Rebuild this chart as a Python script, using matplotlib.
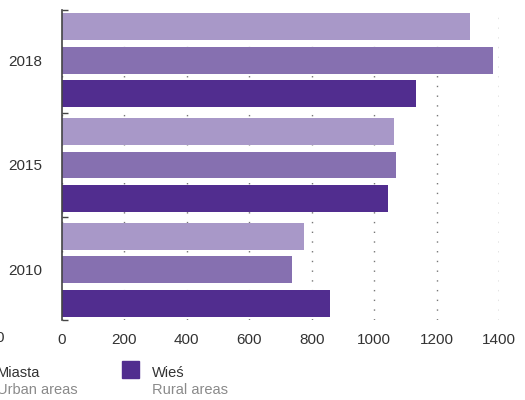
import numpy as np
import matplotlib
matplotlib.use("Agg")
import matplotlib.pyplot as plt

plt.rcParams["font.family"] = ["Liberation Sans", "DejaVu Sans"]

# ---------------------------------------------------------------------------
# Data
# ---------------------------------------------------------------------------
years = ["2010", "2015", "2018"]
total = [775, 1064, 1307]   # lightest bar (top of each group)
urban = [737, 1070, 1381]   # middle bar - Miasta / Urban areas
rural = [859, 1045, 1134]   # dark bar - Wieś / Rural areas
xticks = [0, 200, 400, 600, 800, 1000, 1200, 1400]

LIGHT = "#a898c8"
MID   = "#8670b0"
DARK  = "#512d8f"
TXT   = "#333333"
GREY  = "#8a8a8a"

W, H = 525, 400
fig = plt.figure(figsize=(W / 100, H / 100), dpi=100, facecolor="white")
ax = fig.add_axes([62 / W, 0.2, (499 - 62) / W, 0.775])

y = np.arange(len(years))
off = 0.319
bh = 0.257
ax.barh(y + off, total, height=bh, color=LIGHT, zorder=2)
ax.barh(y, urban, height=bh, color=MID, zorder=2)
ax.barh(y - off, rural, height=bh, color=DARK, zorder=2)

ax.set_xlim(0, 1400)
ax.set_ylim(-0.48, 2.48)
ax.set_xticks(xticks)
ax.set_xticklabels([str(v) for v in xticks], fontsize=11, color=TXT)
ax.tick_params(axis="x", length=0, pad=9)
ax.set_yticks(y)
ax.set_yticklabels(years, fontsize=11, color=TXT)
ax.tick_params(axis="y", which="major", length=0, pad=14)
ax.set_yticks([-0.48, 0.5, 1.5, 2.48], minor=True)
ax.tick_params(axis="y", which="minor", direction="in", length=4,
               width=1, color="#444444")

for s in ["top", "right", "bottom"]:
    ax.spines[s].set_visible(False)
ax.spines["left"].set_color("#444444")
ax.spines["left"].set_linewidth(1.2)

ax.set_axisbelow(True)
ax.xaxis.grid(True, color="#777777", linewidth=1.0, linestyle=(0, (1, 6)))

# ---------------------------------------------------------------------------
# Legend (cropped on the left, as in the reference)
# ---------------------------------------------------------------------------
def fx(px):
    return px / W

def fy(px):
    return 1 - px / H

fig.patches.append(plt.Rectangle((fx(122), fy(378)), 17 / W, 17 / H,
                                 transform=fig.transFigure, color=DARK))
fig.patches.append(plt.Rectangle((fx(-33), fy(378)), 17 / W, 17 / H,
                                 transform=fig.transFigure, color=MID))
fig.text(fx(152), fy(377), "Wieś", fontsize=10.5, color=TXT, va="baseline")
fig.text(fx(152), fy(394), "Rural areas", fontsize=10.5, color=GREY, va="baseline")
fig.text(fx(-3), fy(377), "Miasta", fontsize=10.5, color=TXT, va="baseline")
fig.text(fx(-3), fy(394), "Urban areas", fontsize=10.5, color=GREY, va="baseline")
fig.text(fx(3.5), fy(342), "0", fontsize=11, color=TXT, ha="right", va="baseline")

fig.savefig("out.png", dpi=100, facecolor="white")
